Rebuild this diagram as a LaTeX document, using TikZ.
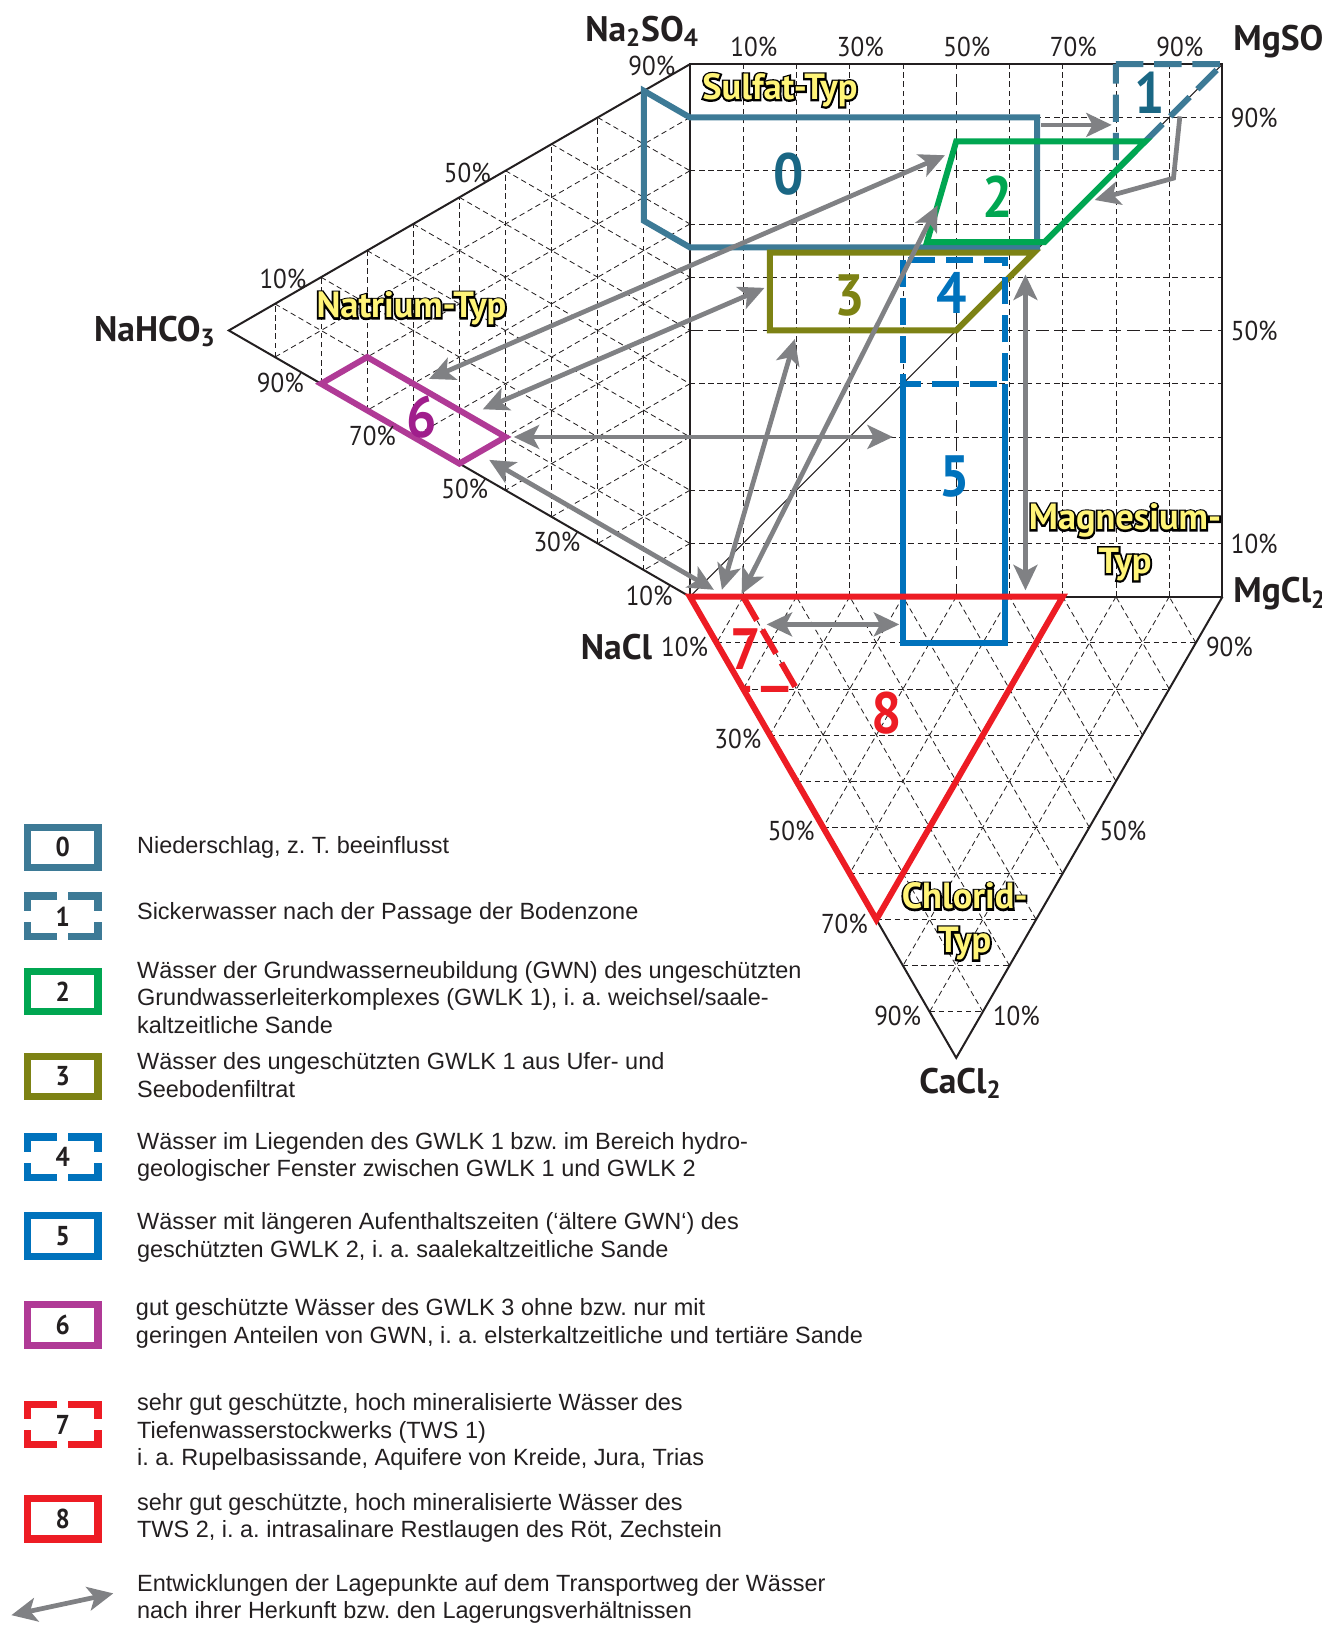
\documentclass[tikz,border=0pt]{standalone}
\usepackage{fontspec}
\setmainfont{Liberation Sans}
\newfontfamily\diafont[FakeStretch=0.92]{PT Sans}
\newfontfamily\typfont{PT Sans}
\usetikzlibrary{calc,arrows.meta}
\frenchspacing

\definecolor{teal0}{RGB}{61,122,150}
\definecolor{tealnum}{RGB}{26,103,132}
\definecolor{green2}{RGB}{0,166,81}
\definecolor{olive3}{RGB}{125,130,20}
\definecolor{blue4}{RGB}{0,114,188}
\definecolor{purple6}{RGB}{176,58,150}
\definecolor{purplenum}{RGB}{160,30,140}
\definecolor{red8}{RGB}{237,28,36}
\definecolor{arrowgray}{RGB}{128,129,132}
\definecolor{typyellow}{RGB}{255,244,120}
\definecolor{inkblack}{RGB}{35,31,32}

\newcommand{\outlined}[1]{\leavevmode\rlap{\special{pdf:literal direct 0 0 0 RG 1 Tr 2 w}#1\special{pdf:literal direct 0 Tr}}#1}

\newcommand{\trigrid}[3]{%
  \foreach \gi in {1,...,9}{%
    \draw[grid] ($(#1)!0.\gi!(#3)$) -- ($(#2)!0.\gi!(#3)$);
    \draw[grid] ($(#2)!0.\gi!(#1)$) -- ($(#3)!0.\gi!(#1)$);
    \draw[grid] ($(#3)!0.\gi!(#2)$) -- ($(#1)!0.\gi!(#2)$);
  }}

\begin{document}
\begin{tikzpicture}[x=1.028cm,y=1.028cm,>={Stealth[length=4.9mm,width=4.6mm,inset=1.2mm]},
  grid/.style={inkblack,line width=0.45pt,dash pattern=on 3pt off 2pt},
  gridhalf/.style={inkblack,line width=0.7pt,dash pattern=on 7pt off 3pt},
  frame/.style={inkblack,line width=1.1pt,line join=miter},
  field/.style={line width=3.3pt,line join=miter},
  fielddash/.style={field,dash pattern=on 15pt off 6pt},
  flow/.style={arrowgray,line width=2.6pt},
  pct/.style={font=\diafont\fontsize{15}{15}\selectfont,text=inkblack,inner sep=0pt},
  salt/.style={font=\typfont\bfseries\fontsize{19.5}{19.5}\selectfont,text=inkblack,inner sep=0pt},
  num/.style={font=\diafont\bfseries\fontsize{32}{32}\selectfont,inner sep=0pt},
  typ/.style={font=\typfont\bfseries\fontsize{20}{24}\selectfont,text=typyellow,align=center,inner sep=0pt},
  legbox/.style={draw,line width=4pt,minimum width=1.36cm,minimum height=0.78cm,inner sep=0pt,
    font=\diafont\bfseries\fontsize{15}{15}\selectfont,text=inkblack},
  legtext/.style={font=\fontsize{12.9}{15.1}\selectfont,text=inkblack,align=left,anchor=west,inner sep=0pt}]

\useasboundingbox (-12.957,-19.31) rectangle (11.86,11.206);

\coordinate (nacl) at (0,0);
\coordinate (na2so4) at (0,10);
\coordinate (mgso4) at (10,10);
\coordinate (mgcl2) at (10,0);
\coordinate (nahco3) at (-8.660,5);
\coordinate (cacl2) at (5,-8.660);

% grid
\foreach \gi in {1,2,3,4,6,7,8,9}{
  \draw[grid] (\gi,0) -- (\gi,10);
  \draw[grid] (0,\gi) -- (10,\gi);
}
\draw[gridhalf] (5,0) -- (5,10);
\draw[gridhalf] (0,5) -- (10,5);
\trigrid{nacl}{na2so4}{nahco3}
\trigrid{nacl}{mgcl2}{cacl2}
\draw[inkblack,line width=0.6pt] (nacl) -- (mgso4);
\draw[frame] (nacl) rectangle (mgso4);
\draw[frame] (na2so4) -- (nahco3) -- (nacl) -- (cacl2) -- (mgcl2);

% fields
\draw[field,teal0] (-0.866,9.5) -- (0,9) -- (6.52,9) -- (6.52,6.56) -- (0,6.56) -- (-0.866,7.06) -- cycle;
\draw[fielddash,teal0] (8,10) -- (10,10) -- (8,8) -- cycle;
\draw[field,green2] (5,8.55) -- (8.55,8.55) -- (6.66,6.66) -- (4.45,6.66) -- cycle;
\draw[field,olive3] (1.5,6.46) -- (6.46,6.46) -- (5,5) -- (1.5,5) -- cycle;
\draw[field,blue4] (4,4) -- (4,-0.866) -- (5.92,-0.866) -- (5.92,4);
\draw[fielddash,blue4] (4,6.33) rectangle (5.92,4);
\draw[field,purple6] (-6.928,4) -- (-6.062,4.5) -- (-3.464,3) -- (-4.330,2.5) -- cycle;
\draw[field,red8] (nacl) -- (7,0) -- (3.5,-6.062) -- cycle;
\draw[fielddash,red8] (1,0) -- (2,-1.732) -- (1,-1.732);

% flows
\coordinate (o0) at (6.6,8.86);   \coordinate (i1) at (7.92,8.86);
\coordinate (o1) at (9.2,9.02);   \coordinate (k1) at (9.08,7.86);  \coordinate (i2) at (7.6,7.45);
\coordinate (e6a) at (-4.9,4.09); \coordinate (e2a) at (4.79,8.29);
\coordinate (e6b) at (-3.89,3.52);\coordinate (e3a) at (1.40,5.80);
\coordinate (e6c) at (-3.31,3);   \coordinate (e5a) at (3.81,3);
\coordinate (e6d) at (-3.77,2.57);\coordinate (e8a) at (0.45,0.13);
\coordinate (e8b) at (0.6,0.13);  \coordinate (e3b) at (1.97,4.84);
\coordinate (e8c) at (0.97,0.05); \coordinate (e2b) at (4.65,7.35);
\coordinate (e8d) at (6.3,0.12);  \coordinate (e2c) at (6.3,6.05);
\coordinate (e7a) at (1.44,-0.52);\coordinate (e5b) at (3.93,-0.52);
\draw[flow,->] (o0) -- (i1);
\draw[flow,->] (o1) -- (k1) -- (i2);
\draw[flow,<->] (e6a) -- (e2a);
\draw[flow,<->] (e6b) -- (e3a);
\draw[flow,<->] (e6c) -- (e5a);
\draw[flow,<->] (e6d) -- (e8a);
\draw[flow,<->] (e8b) -- (e3b);
\draw[flow,<->] (e8c) -- (e2b);
\draw[flow,<->] (e8d) -- (e2c);
\draw[flow,<->] (e7a) -- (e5b);

% field numbers
\node[num,text=tealnum] (n0) at (1.85,7.94) {0};
\node[num,text=tealnum] (n1) at (8.64,9.46) {1};
\node[num,text=green2] (n2) at (5.78,7.51) {2};
\node[num,text=olive3] (n3) at (3.0,5.66) {3};
\node[num,text=blue4] (n4) at (4.92,5.7) {4};
\node[num,text=blue4] (n5) at (4.98,2.26) {5};
\node[num,text=purplenum] (n6) at (-5.04,3.37) {6};
\node[num,text=red8] (n7) at (1.05,-0.99) {7};
\node[num,text=red8] (n8) at (3.7,-2.18) {8};

% types
\node[typ] (sulfat) at (1.69,9.51) {\outlined{Sulfat-Typ}};
\node[typ] (natrium) at (-5.23,5.41) {\outlined{Natrium-Typ}};
\node[typ] (magnesium) at (8.17,1.02) {\outlined{Magnesium-}\\\outlined{Typ}};
\node[typ] (chlorid) at (5.16,-6.1) {\outlined{Chlorid-}\\\outlined{Typ}};

% scales
\foreach \p [count=\c] in {10,30,50,70,90}
  \node[pct] (top\p) at ({2*\c-0.8},10.33) {\p\%};
\foreach \p in {10,50,90}
  \node[pct,anchor=west] (right\p) at (10.15,\p/10) {\p\%};
\foreach \p in {10,50,90}
  \node[pct] (upper\p) at ({-8.51+0.0866*\p},{5.46+0.05*\p}) {\p\%};
\foreach \p in {10,30,50,70,90}
  \node[pct] (lower\p) at ({0.1-0.0866*\p},{0.05*\p-0.48}) {\p\%};
\foreach \p in {10,30,50,70,90}
  \node[pct] (bleft\p) at ({0.05*\p-0.6},{-0.0866*\p-0.075}) {\p\%};
\foreach \p in {10,50,90}
  \node[pct] (bright\p) at ({5.63+0.05*\p},{-0.0866*(100-\p)-0.075}) {\p\%};

% salts
\node[salt] (lna2so4) at (-0.9,10.62) {Na\textsubscript{2}SO\textsubscript{4}};
\node[salt,anchor=west] (lmgso4) at (10.2,10.43) {MgSO\textsubscript{4}};
\node[salt,anchor=east] (lnahco3) at (-8.9,4.98) {NaHCO\textsubscript{3}};
\node[salt] (lnacl) at (-1.38,-0.95) {NaCl};
\node[salt,anchor=west] (lmgcl2) at (10.2,0.05) {MgCl\textsubscript{2}};
\node[salt] (lcacl2) at (5.08,-9.14) {CaCl\textsubscript{2}};

% legend
\foreach \nr/\yy/\col in {0/-4.708/teal0,2/-7.412/green2,3/-9.008/olive3,5/-12.004/blue4,6/-13.677/purple6,8/-17.315/red8}
  \node[legbox,draw=\col] (box\nr) at (-11.78,\yy) {\nr};
\foreach \nr/\yy/\col in {1/-6.002/teal0,4/-10.525/blue4,7/-15.545/red8}{
  \node[legbox,draw=none] (box\nr) at (-11.78,\yy) {\nr};
  \foreach \sx/\sy in {1/1,1/-1,-1/1,-1/-1}
    \draw[\col,line width=4pt,line join=miter,shift={(box\nr.center)},xscale=\sx,yscale=\sy]
      (0.107cm,0.39cm) -| (0.68cm,0.107cm);
}
\node[legtext] (leg0) at (-10.389,-4.708) {Niederschlag, z. T. beeinflusst};
\node[legtext] (leg1) at (-10.389,-5.953) {Sickerwasser nach der Passage der Bodenzone};
\node[legtext] (leg2) at (-10.389,-7.519) {Wässer der Grundwasserneubildung (GWN) des ungeschützten\\Grundwasserleiterkomplexes (GWLK 1), i. a. weichsel/saale-\\kaltzeitliche Sande};
\node[legtext] (leg3) at (-10.389,-8.979) {Wässer des ungeschützten GWLK 1 aus Ufer- und\\Seebodenfiltrat};
\node[legtext] (leg4) at (-10.389,-10.516) {Wässer im Liegenden des GWLK 1 bzw. im Bereich hydro-\\geologischer Fenster zwischen GWLK 1 und GWLK 2};
\node[legtext] (leg5) at (-10.389,-12.033) {Wässer mit längeren Aufenthaltszeiten (‘ältere GWN‘) des\\geschützten GWLK 2, i. a. saalekaltzeitliche Sande};
\node[legtext] (leg6) at (-10.41,-13.648) {gut geschützte Wässer des GWLK 3 ohne bzw. nur mit\\geringen Anteilen von GWN, i. a. elsterkaltzeitliche und tertiäre Sande};
\node[legtext] (leg7) at (-10.389,-15.691) {sehr gut geschützte, hoch mineralisierte Wässer des\\Tiefenwasserstockwerks (TWS 1)\\i. a. Rupelbasissande, Aquifere von Kreide, Jura, Trias};
\node[legtext] (leg8) at (-10.389,-17.296) {sehr gut geschützte, hoch mineralisierte Wässer des\\TWS 2, i. a. intrasalinare Restlaugen des Röt, Zechstein};
\coordinate (lfa) at (-12.743,-19.125);
\coordinate (lfb) at (-10.829,-18.716);
\draw[flow,<->] (lfa) -- (lfb);
\node[legtext] (legflow) at (-10.389,-18.823) {Entwicklungen der Lagepunkte auf dem Transportweg der Wässer\\nach ihrer Herkunft bzw. den Lagerungsverhältnissen};

\end{tikzpicture}
\end{document}
